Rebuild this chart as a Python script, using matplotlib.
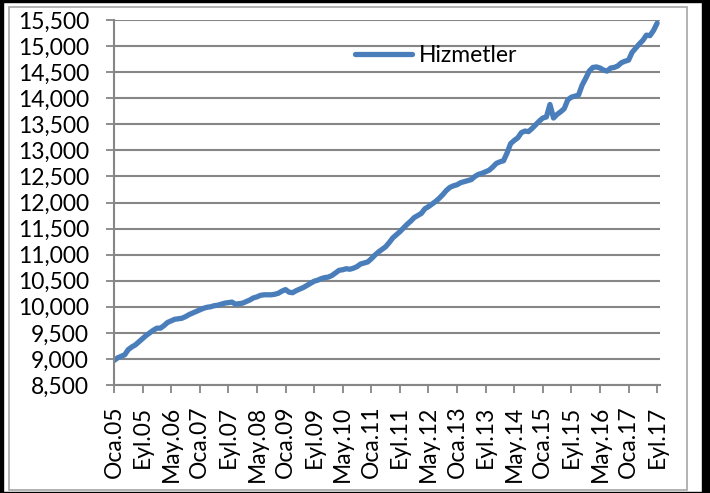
import matplotlib.pyplot as plt
from matplotlib.patches import Rectangle
from matplotlib.ticker import FuncFormatter

# monthly series, Oca.05 .. Eyl.17
hizmetler = [
    8970, 9020, 9050, 9080, 9180, 9230, 9270, 9330, 9390, 9450, 9500, 9550,
    9590, 9590, 9640, 9700, 9730, 9760, 9770, 9780, 9810, 9850, 9880, 9910,
    9940, 9970, 9990, 10000, 10020, 10030, 10050, 10070, 10080, 10090, 10050, 10060,
    10070, 10100, 10130, 10170, 10190, 10220, 10230, 10230, 10230, 10240, 10260, 10300,
    10330, 10280, 10270, 10310, 10340, 10370, 10410, 10450, 10490, 10510, 10540, 10560,
    10570, 10600, 10650, 10700, 10710, 10730, 10720, 10740, 10770, 10820, 10840, 10860,
    10920, 10990, 11050, 11100, 11150, 11230, 11320, 11380, 11440, 11510, 11580, 11640,
    11710, 11750, 11790, 11880, 11920, 11970, 12020, 12080, 12150, 12230, 12290, 12320,
    12340, 12380, 12400, 12420, 12440, 12500, 12540, 12560, 12590, 12620, 12680, 12750,
    12780, 12800, 12950, 13130, 13190, 13240, 13340, 13370, 13360, 13420, 13490, 13560,
    13620, 13640, 13880, 13620, 13690, 13740, 13800, 13970, 14020, 14040, 14060, 14250,
    14380, 14520, 14590, 14600, 14580, 14540, 14520, 14580, 14590, 14620, 14680, 14710,
    14730, 14880, 14960, 15040, 15110, 15210, 15200, 15300, 15440,
]
tick_labels = ["Oca.05", "Eyl.05", "May.06", "Oca.07", "Eyl.07", "May.08", "Oca.09",
               "Eyl.09", "May.10", "Oca.11", "Eyl.11", "May.12", "Oca.13", "Eyl.13",
               "May.14", "Oca.15", "Eyl.15", "May.16", "Oca.17", "Eyl.17"]
yticks = list(range(8500, 15501, 500))

plt.rcParams['font.family'] = ['Lato', 'DejaVu Sans']
W, H = 710, 493
fig = plt.figure(figsize=(W / 100, H / 100), dpi=100)
ax = fig.add_axes([114 / W, 1 - 385 / H, (660 - 114) / W, (385 - 20) / H])

x = list(range(len(hizmetler)))
ax.plot(x, hizmetler, color='#4a7ebb', lw=3.8, solid_capstyle='round', label='Hizmetler')

ax.set_xlim(0, 152.8)
ax.set_ylim(8500, 15500)
ax.set_yticks(yticks)
ax.yaxis.set_major_formatter(FuncFormatter(lambda v, p: f"{int(v):,}"))
ax.set_xticks(range(0, len(hizmetler), 8))
ax.set_xticklabels(tick_labels, rotation=90)
ax.tick_params(axis='both', labelsize=16.5, color='#868686', width=1.3, length=6)
ax.tick_params(axis='y', pad=12)
ax.tick_params(axis='x', pad=9)
ax.grid(axis='y', color='#868686', lw=1.5)
ax.set_axisbelow(True)
for s in ['top', 'right']:
    ax.spines[s].set_visible(False)
for s in ['left', 'bottom']:
    ax.spines[s].set_color('#868686')
    ax.spines[s].set_linewidth(1.5)

ax.legend(loc='center left', bbox_to_anchor=(0.441, 0.904), frameon=False, fontsize=16.5,
          handlelength=2.5, handletextpad=0.3, borderpad=0, borderaxespad=0)

# chart border and outer black frame
fig.patches.append(Rectangle((9 / W, 1 - 490 / H), (687 - 9) / W, (490 - 7) / H,
                             transform=fig.transFigure, fill=False, ec='#a6a6a6', lw=1.2))
fig.patches.append(Rectangle((702 / W, 0), 8 / W, 1, transform=fig.transFigure,
                             color='black'))
fig.patches.append(Rectangle((0, 0), 3 / W, 1, transform=fig.transFigure, color='black'))
fig.patches.append(Rectangle((0, 1 - 2 / H), 1, 2 / H, transform=fig.transFigure,
                             color='black'))
fig.patches.append(Rectangle((0, 0), 1, 1 / H, transform=fig.transFigure, color='black'))

fig.savefig('out.png', dpi=100)
